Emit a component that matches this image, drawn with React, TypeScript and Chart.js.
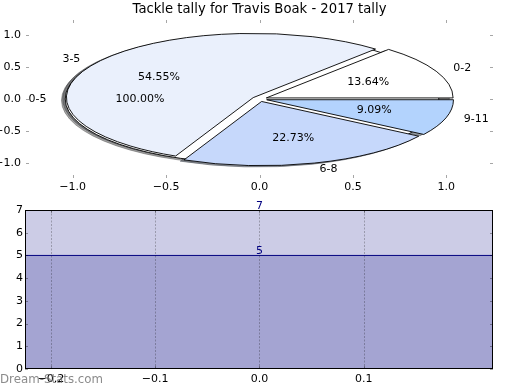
import React, { useEffect, useRef } from "react";
import { Chart, registerables } from "chart.js";

Chart.register(...registerables);

// ---------- data ----------
const TITLE = "Tackle tally for Travis Boak - 2017 tally";
const rangeLabels = ["0-2", "3-5", "6-8", "9-11"];
const rangeCounts = [3, 12, 5, 2];
const rangeColors = ["#ffffff", "#eaf0fc", "#c6d8fb", "#b3d3fd"];
const overallLabels = ["0-5"];
const overallCounts = [1];
const overallColors = ["#ffffff"];
const pieXTicks = [-1, -0.5, 0, 0.5, 1];
const pieYTicks = [-1, -0.5, 0, 0.5, 1];

const tallyMax = 7;
const tallyActual = 5;
const barYTicks = [0, 1, 2, 3, 4, 5, 6, 7];
const barXTicks = [-0.2, -0.1, 0, 0.1];
const WATERMARK = "Dream-Stats.com";

// ---------- style constants ----------
const FONT = '"DejaVu Sans", sans-serif';
const BASE = 11;
const EXPLODE = 0.04;
const PIE_X_RANGE = 1.25;
const PIE_Y_RANGE = 1.23;
const BAR_X_MIN = -0.2248;
const BAR_X_MAX = 0.2239;
const NAVY = "#000080";
const TICK_COLOR = "rgba(0,0,0,0.35)";

const fmt1 = (v: number) => (v < 0 ? "\u2212" : "") + Math.abs(v).toFixed(1);

type Wedge = {
  cx: number;
  cy: number;
  t1: number;
  t2: number;
  mid: number;
  color: string;
  full: boolean;
  label: string;
  pct: string;
};

function buildWedges(counts: number[], labels: string[], colors: string[], explode: number): Wedge[] {
  const total = counts.reduce((a, b) => a + b, 0);
  let theta = 0;
  return counts.map((c, i) => {
    const t1 = theta;
    const t2 = theta + (360 * c) / total;
    theta = t2;
    const mid = (((t1 + t2) / 2) * Math.PI) / 180;
    return {
      cx: explode * Math.cos(mid),
      cy: explode * Math.sin(mid),
      t1: (t1 * Math.PI) / 180,
      t2: (t2 * Math.PI) / 180,
      mid,
      color: colors[i],
      full: Math.abs(t2 - t1 - 360) < 1e-9,
      label: labels[i],
      pct: ((100 * c) / total).toFixed(2) + "%",
    };
  });
}

function shade(hex: string) {
  const n = parseInt(hex.slice(1), 16);
  const r = ((n >> 16) & 255) * 0.3;
  const g = ((n >> 8) & 255) * 0.3;
  const b = (n & 255) * 0.3;
  return `rgba(${r.toFixed(0)},${g.toFixed(0)},${b.toFixed(0)},0.5)`;
}

function drawInwardTicks(chart: any, xt: number[], yt: number[]) {
  const ctx = chart.ctx;
  const { left, right, top, bottom } = chart.chartArea;
  const xs = chart.scales.x;
  const ys = chart.scales.y;
  ctx.save();
  ctx.strokeStyle = TICK_COLOR;
  ctx.lineWidth = 1;
  ctx.beginPath();
  xt.forEach((v) => {
    const x = Math.round(xs.getPixelForValue(v)) + 0.5;
    ctx.moveTo(x, top);
    ctx.lineTo(x, top + 3);
    ctx.moveTo(x, bottom);
    ctx.lineTo(x, bottom - 3);
  });
  yt.forEach((v) => {
    const y = Math.round(ys.getPixelForValue(v)) + 0.5;
    ctx.moveTo(left, y);
    ctx.lineTo(left + 3, y);
    ctx.moveTo(right, y);
    ctx.lineTo(right - 3, y);
  });
  ctx.stroke();
  ctx.restore();
}

const piePlugin = {
  id: "ellipsePie",
  afterDatasetsDraw(chart: any) {
    const ctx = chart.ctx;
    const xs = chart.scales.x;
    const ys = chart.scales.y;
    const rx = xs.getPixelForValue(1) - xs.getPixelForValue(0);
    const ry = ys.getPixelForValue(0) - ys.getPixelForValue(1);
    const all = [
      ...buildWedges(overallCounts, overallLabels, overallColors, EXPLODE),
      ...buildWedges(rangeCounts, rangeLabels, rangeColors, EXPLODE),
    ];
    const path = (w: Wedge, dx: number, dy: number) => {
      const px = xs.getPixelForValue(w.cx + dx);
      const py = ys.getPixelForValue(w.cy + dy);
      ctx.beginPath();
      if (w.full) {
        ctx.ellipse(px, py, rx, ry, 0, 0, Math.PI * 2);
      } else {
        ctx.moveTo(px, py);
        ctx.ellipse(px, py, rx, ry, 0, -w.t1, -w.t2, true);
        ctx.closePath();
      }
    };
    ctx.save();
    all.forEach((w) => {
      path(w, -0.02, -0.02);
      const c = shade(w.color);
      ctx.fillStyle = c;
      ctx.strokeStyle = c;
      ctx.lineWidth = 1;
      ctx.fill();
      ctx.stroke();
    });
    all.forEach((w) => {
      path(w, 0, 0);
      ctx.fillStyle = w.color;
      ctx.fill();
      ctx.strokeStyle = "#000";
      ctx.lineWidth = 0.9;
      ctx.stroke();
    });
    ctx.font = `${BASE}px ${FONT}`;
    ctx.fillStyle = "#000";
    ctx.textBaseline = "middle";
    all.forEach((w) => {
      const c = Math.cos(w.mid);
      const s = Math.sin(w.mid);
      const lx = w.cx + 1.1 * c;
      const ly = w.cy + 1.1 * s;
      ctx.textAlign = lx < 0 ? "right" : "left";
      ctx.fillText(w.label, xs.getPixelForValue(lx), ys.getPixelForValue(ly));
      ctx.textAlign = "center";
      ctx.fillText(w.pct, xs.getPixelForValue(w.cx + 0.6 * c), ys.getPixelForValue(w.cy + 0.6 * s));
    });
    ctx.restore();
  },
  afterDraw(chart: any) {
    drawInwardTicks(chart, pieXTicks, pieYTicks);
    const ctx = chart.ctx;
    const { left, right } = chart.chartArea;
    ctx.save();
    ctx.font = `13.2px ${FONT}`;
    ctx.fillStyle = "#000";
    ctx.textAlign = "center";
    ctx.textBaseline = "middle";
    ctx.fillText(TITLE, (left + right) / 2, 10);
    ctx.restore();
  },
};

const barPlugin = {
  id: "areaDecor",
  afterDatasetsDraw(chart: any) {
    const ctx = chart.ctx;
    const xs = chart.scales.x;
    const ys = chart.scales.y;
    const { left, right, top, bottom } = chart.chartArea;
    ctx.save();
    // dotted vertical grid
    ctx.strokeStyle = "rgba(0,0,0,0.25)";
    ctx.lineWidth = 1;
    ctx.setLineDash([2, 1.5]);
    ctx.beginPath();
    barXTicks.forEach((v) => {
      const x = Math.round(xs.getPixelForValue(v)) + 0.5;
      ctx.moveTo(x, top);
      ctx.lineTo(x, bottom);
    });
    ctx.stroke();
    ctx.setLineDash([]);
    // value labels
    ctx.font = `${BASE}px ${FONT}`;
    ctx.fillStyle = NAVY;
    ctx.textAlign = "center";
    ctx.textBaseline = "alphabetic";
    [tallyMax, tallyActual].forEach((v) => {
      ctx.fillText(String(v), xs.getPixelForValue(0), ys.getPixelForValue(v) - 1);
    });
    // frame
    ctx.strokeStyle = "#000";
    ctx.lineWidth = 1;
    ctx.strokeRect(Math.round(left) + 0.5, Math.round(top) + 0.5, Math.round(right - left) - 1, Math.round(bottom - top) - 1);
    ctx.restore();
  },
  afterDraw(chart: any) {
    drawInwardTicks(chart, barXTicks, barYTicks);
    const ctx = chart.ctx;
    ctx.save();
    ctx.font = `11.8px ${FONT}`;
    ctx.fillStyle = "rgba(100,100,100,0.75)";
    ctx.textAlign = "left";
    ctx.textBaseline = "middle";
    ctx.fillText(WATERMARK, 0, 185);
    ctx.restore();
  },
};

export default function App() {
  const pieRef = useRef<HTMLCanvasElement | null>(null);
  const barRef = useRef<HTMLCanvasElement | null>(null);

  useEffect(() => {
    Chart.defaults.font.family = FONT;
    Chart.defaults.font.size = BASE;
    Chart.defaults.color = "#000";

    const pie = new Chart(pieRef.current as HTMLCanvasElement, {
      type: "scatter",
      data: { datasets: [{ data: [] }] },
      options: {
        responsive: false,
        animation: false,
        events: [],
        layout: { padding: { top: 20, right: 27, left: 0, bottom: 0 } },
        plugins: { legend: { display: false }, tooltip: { enabled: false }, title: { display: false } },
        scales: {
          x: {
            type: "linear",
            min: -PIE_X_RANGE,
            max: PIE_X_RANGE,
            afterBuildTicks: (s: any) => {
              s.ticks = pieXTicks.map((v) => ({ value: v }));
            },
            afterFit: (s: any) => {
              s.height = 17;
            },
            grid: { display: false, drawTicks: false },
            border: { display: false },
            ticks: { padding: 3, maxRotation: 0, callback: (v: any) => fmt1(Number(v)) },
          },
          y: {
            type: "linear",
            min: -PIE_Y_RANGE,
            max: PIE_Y_RANGE,
            afterBuildTicks: (s: any) => {
              s.ticks = pieYTicks.map((v) => ({ value: v }));
            },
            afterFit: (s: any) => {
              s.width = 26;
            },
            grid: { display: false, drawTicks: false },
            border: { display: false },
            ticks: { padding: 5, callback: (v: any) => fmt1(Number(v)) },
          },
        },
      },
      plugins: [piePlugin],
    } as any);

    const bar = new Chart(barRef.current as HTMLCanvasElement, {
      type: "line",
      data: {
        datasets: [
          {
            label: "actual",
            data: [
              { x: BAR_X_MIN, y: tallyActual },
              { x: BAR_X_MAX, y: tallyActual },
            ],
            fill: "origin",
            backgroundColor: "rgba(0,0,128,0.2)",
            borderColor: NAVY,
            borderWidth: 1,
            pointRadius: 0,
            order: 0,
          },
          {
            label: "max",
            data: [
              { x: BAR_X_MIN, y: tallyMax },
              { x: BAR_X_MAX, y: tallyMax },
            ],
            fill: "origin",
            backgroundColor: "rgba(0,0,128,0.2)",
            borderColor: NAVY,
            borderWidth: 1,
            pointRadius: 0,
            order: 1,
          },
        ],
      },
      options: {
        responsive: false,
        animation: false,
        events: [],
        layout: { padding: { top: 15, right: 27, left: 0, bottom: 0 } },
        plugins: { legend: { display: false }, tooltip: { enabled: false }, title: { display: false } },
        scales: {
          x: {
            type: "linear",
            min: BAR_X_MIN,
            max: BAR_X_MAX,
            afterBuildTicks: (s: any) => {
              s.ticks = barXTicks.map((v) => ({ value: v }));
            },
            afterFit: (s: any) => {
              s.height = 21;
            },
            grid: { display: false, drawTicks: false },
            border: { display: false },
            ticks: { padding: 4, maxRotation: 0, callback: (v: any) => fmt1(Number(v)) },
          },
          y: {
            type: "linear",
            min: 0,
            max: tallyMax,
            afterBuildTicks: (s: any) => {
              s.ticks = barYTicks.map((v) => ({ value: v }));
            },
            afterFit: (s: any) => {
              s.width = 25;
            },
            grid: { display: false, drawTicks: false },
            border: { display: false },
            ticks: { padding: 2, callback: (v: any) => String(v) },
          },
        },
      },
      plugins: [barPlugin],
    } as any);

    return () => {
      pie.destroy();
      bar.destroy();
    };
  }, []);

  return (
    <div style={{ position: "fixed", left: 0, top: 0, width: 520, height: 390, background: "#fff" }}>
      <canvas ref={pieRef} width={520} height={195} style={{ position: "absolute", left: 0, top: 0 }} />
      <canvas ref={barRef} width={520} height={195} style={{ position: "absolute", left: 0, top: 195 }} />
    </div>
  );
}
